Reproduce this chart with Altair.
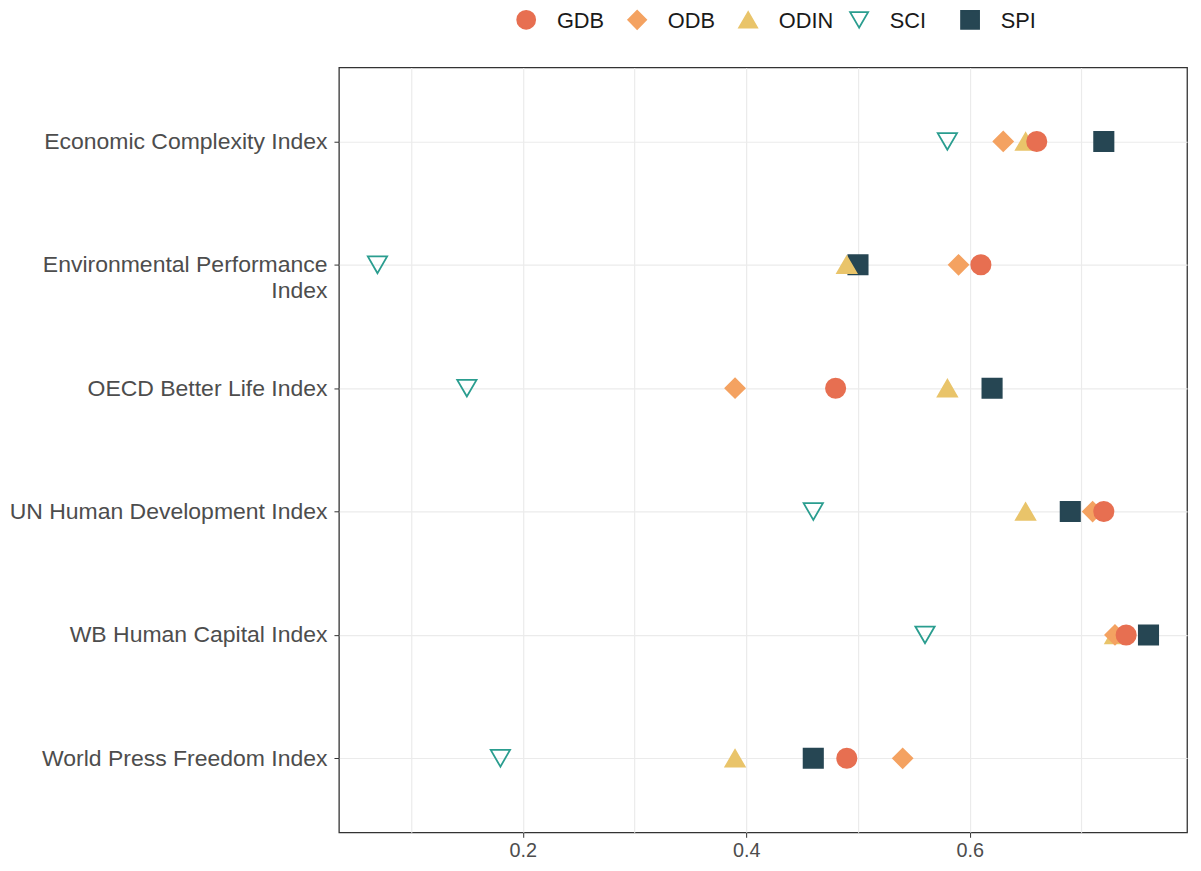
import altair as alt
import pandas as pd

categories = [
    "Economic Complexity Index",
    "Environmental Performance Index",
    "OECD Better Life Index",
    "UN Human Development Index",
    "WB Human Capital Index",
    "World Press Freedom Index",
]
series = ["GDB", "ODB", "ODIN", "SCI", "SPI"]
gdb = [0.66, 0.61, 0.48, 0.72, 0.74, 0.49]
odb = [0.63, 0.59, 0.39, 0.71, 0.73, 0.54]
odin = [0.65, 0.49, 0.58, 0.65, 0.73, 0.39]
sci = [0.58, 0.07, 0.15, 0.46, 0.56, 0.18]
spi = [0.72, 0.50, 0.62, 0.69, 0.76, 0.46]

colors = ["#E76F51", "#F4A261", "#E9C46A", "#2A9D8F", "#264653"]
fills = ["#E76F51", "#F4A261", "#E9C46A", "transparent", "#264653"]
shapes = ["circle", "diamond", "triangle-up", "triangle-down", "square"]
sizes = [380, 380, 680, 760, 400]
legend_sizes = [330, 330, 580, 600, 360]

values = {"GDB": gdb, "ODB": odb, "ODIN": odin, "SCI": sci, "SPI": spi}
draw_order = ["SPI", "SCI", "ODIN", "ODB", "GDB"]
rows = []
for s in draw_order:
    for c, v in zip(categories, values[s]):
        rows.append({"index": c, "series": s, "value": v})
df = pd.DataFrame(rows)
legend_df = pd.DataFrame({"series": series})

FONT = "Liberation Sans"

stroke_scale = alt.Scale(domain=series, range=colors)
fill_scale = alt.Scale(domain=series, range=fills)
shape_scale = alt.Scale(domain=series, range=shapes)

major = "abs(datum.value - 0.2) < 0.001 || abs(datum.value - 0.4) < 0.001 || abs(datum.value - 0.6) < 0.001"

x_axis = alt.Axis(
    title=None,
    values=[0.1, 0.2, 0.3, 0.4, 0.5, 0.6, 0.7],
    format=".1f",
    labelExpr="(" + major + ") ? datum.label : ''",
    tickOpacity={"condition": {"test": major, "value": 1}, "value": 0},
    labelFontSize=20,
    labelFont=FONT,
    labelColor="#4D4D4D",
    labelPadding=3,
    tickColor="#333333",
    tickSize=5,
    domain=False,
    grid=True,
    gridColor="#EBEBEB",
    gridWidth=1.2,
)

y_axis = alt.Axis(
    title=None,
    labelExpr="datum.label == 'Environmental Performance Index' ? ['Environmental Performance', 'Index'] : datum.label",
    labelFontSize=23.2,
    labelFont=FONT,
    labelColor="#4D4D4D",
    labelLineHeight=26,
    labelPadding=7,
    labelLimit=400,
    tickColor="#333333",
    tickSize=5,
    domain=False,
    grid=True,
    gridColor="#EBEBEB",
    gridWidth=1.2,
)

main = (
    alt.Chart(df)
    .mark_point(opacity=1, strokeWidth=1.8)
    .encode(
        x=alt.X("value:Q", scale=alt.Scale(domain=[0.0355, 0.7945], nice=False, zero=False), axis=x_axis),
        y=alt.Y("index:N", sort=categories, scale=alt.Scale(type="point", padding=0.6), axis=y_axis),
        stroke=alt.Stroke("series:N", scale=stroke_scale, legend=None),
        fill=alt.Fill("series:N", scale=fill_scale, legend=None),
        shape=alt.Shape("series:N", scale=shape_scale, legend=None),
        size=alt.Size("series:N", scale=alt.Scale(domain=series, range=sizes), legend=None),
    )
    .properties(
        width=856,
        height=772,
        view=alt.ViewBackground(stroke="#333333", strokeWidth=1.3),
    )
)

lx = alt.X("series:N", sort=series, scale=alt.Scale(type="point", padding=0, range=[189, 637]), axis=None)
legend_symbols = alt.Chart(legend_df).mark_point(opacity=1, strokeWidth=1.8, yOffset=-2).encode(
    x=lx,
    stroke=alt.Stroke("series:N", scale=stroke_scale, legend=None),
    fill=alt.Fill("series:N", scale=fill_scale, legend=None),
    shape=alt.Shape("series:N", scale=shape_scale, legend=None),
    size=alt.Size("series:N", scale=alt.Scale(domain=series, range=legend_sizes), legend=None),
)
legend_text = alt.Chart(legend_df).mark_text(
    align="left", baseline="middle", dx=31, dy=-1, fontSize=22, font=FONT, color="#1A1A1A"
).encode(x=lx, text="series:N")
legend_chart = alt.layer(legend_symbols, legend_text).properties(
    width=826, height=28, view=alt.ViewBackground(stroke="transparent")
)

chart = (
    alt.vconcat(legend_chart, main, spacing=32, bounds="flush")
    .resolve_scale(x="independent", size="independent")
    .properties(padding={"left": 0, "top": -6, "right": 5, "bottom": 0}, background="white")
    .configure_view(stroke="transparent")
)

chart.save("out.html", embed_options={"renderer": "svg", "actions": False})
